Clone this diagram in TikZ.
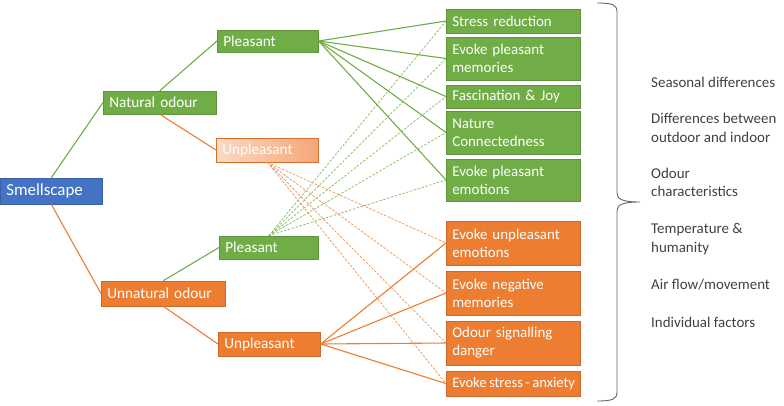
\documentclass[tikz,border=0pt]{standalone}
\usepackage{fontspec}
\setmainfont{Carlito}
\usetikzlibrary{positioning}
\definecolor{natgreen}{HTML}{70AD47}
\definecolor{unorange}{HTML}{ED7D31}
\definecolor{smblue}{HTML}{4472C4}
\definecolor{fadeA}{HTML}{FBD9C4}
\definecolor{fadeB}{HTML}{F4A778}
\definecolor{factgray}{HTML}{404040}

\tikzset{
    box/.style={anchor=west, text=white, inner xsep=6bp, inner ysep=0pt, align=left,
        font=\fontsize{15.3}{18}\selectfont, line width=0.6bp},
    gbox/.style={box, fill=natgreen, draw=natgreen!85!black},
    obox/.style={box, fill=unorange, draw=unorange!85!black},
    outbox/.style={font=\fontsize{15}{18}\selectfont, text width=122bp},
    link/.style={line width=1.1bp},
    weak/.style={line width=0.7bp, dash pattern=on 2.5bp off 1.5bp},
    factor/.style={anchor=west, align=left, text=factgray, inner sep=0pt,
        font=\fontsize{15}{18.5}\selectfont}
}

\begin{document}
\begin{tikzpicture}[x=1bp, y=-1bp]
    \useasboundingbox (0,0) rectangle (784,405);

    % left part of the tree
    \node (smell) [box, fill=smblue, draw=smblue!85!black, minimum height=26bp, text width=90bp,
        font=\fontsize{17}{20}\selectfont] at (0,191) {Smellscape};
    \node (natural) [gbox, minimum height=23bp, text width=101bp] at (103,102.5) {Natural odour};
    \node (unnatural) [obox, minimum height=25bp, text width=112bp] at (101,293.5) {Unnatural odour};

    \node (pleasA) [gbox, minimum height=22bp, text width=89bp] at (217,41) {Pleasant};
    \node (unplA) [box, left color=fadeA, right color=fadeB, draw=unorange!90!black, minimum height=24bp, text width=90bp] at (216,150) {Unpleasant};
    \node (pleasB) [gbox, minimum height=23bp, text width=87bp] at (219,247.5) {Pleasant};
    \node (unplB) [obox, minimum height=24bp, text width=90bp] at (218,344) {Unpleasant};

    % outcomes
    \node (stress) [gbox, outbox, minimum height=24bp] at (446,21) {Stress reduction};
    \node (memP) [gbox, outbox, minimum height=43bp] at (446,58.5) {Evoke pleasant\\memories};
    \node (fasc) [gbox, outbox, minimum height=23bp] at (446,96.5) {Fascination \& Joy};
    \node (nature) [gbox, outbox, minimum height=43bp] at (446,132.5) {Nature\\Connectedness};
    \node (emoP) [gbox, outbox, minimum height=42bp] at (446,180) {Evoke pleasant\\emotions};
    \node (emoU) [obox, outbox, minimum height=44bp] at (446,243) {\mbox{Evoke unpleasant}\\emotions};
    \node (memN) [obox, outbox, minimum height=44bp] at (446,293) {Evoke negative\\memories};
    \node (danger) [obox, outbox, minimum height=44bp] at (446,343) {Odour signalling\\danger};
    \node (anx) [obox, outbox, minimum height=25bp, font=\fontsize{14.6}{18}\selectfont] at (446,383.5)
        {\mbox{\spaceskip=0.17em\relax Evoke stress - anxiety}};

    % tree branches
    \draw[link, natgreen] (smell.north) -- (natural.west);
    \draw[link, unorange] (smell.south) -- (unnatural.west);
    \draw[link, natgreen] (natural.north) -- (pleasA.west);
    \draw[link, unorange] (natural.south) -- (unplA.west);
    \draw[link, natgreen] (unnatural.north) -- (pleasB.west);
    \draw[link, unorange] (unnatural.south) -- (unplB.west);

    \foreach \t in {stress,memP,fasc,nature,emoP} {
        \draw[link, natgreen] (pleasA.east) -- (\t.west);
        \draw[weak, natgreen!85!white] (pleasB.north) -- (\t.west);
    }
    \foreach \t in {emoU,memN,danger,anx} {
        \draw[link, unorange] (unplB.east) -- (\t.west);
        \draw[weak, unorange!85!white] (unplA.south) -- (\t.west);
    }

    % brace and influencing factors
    \coordinate (tip) at (640,202);
    \draw[line width=0.9bp, gray!80!black] (597,3) .. controls (613,3) and (617,5) .. (617,12)
        -- (617,193) .. controls (617,199) and (622,202) .. (tip)
        .. controls (622,202) and (617,205) .. (617,211) -- (617,392)
        .. controls (617,399) and (613,401) .. (597,401);

    \node (seasonal) [factor] at (651,82) {Seasonal differences};
    \node (inout) [factor] at (651,128) {Differences between\\outdoor and indoor};
    \node (charac) [factor] at (651,182.5) {Odour\\characteristics};
    \node (temp) [factor] at (651,239) {Temperature \&\\humanity};
    \node (airflow) [factor] at (651,285) {Air flow/movement};
    \node (indiv) [factor] at (651,322) {Individual factors};
\end{tikzpicture}
\end{document}
